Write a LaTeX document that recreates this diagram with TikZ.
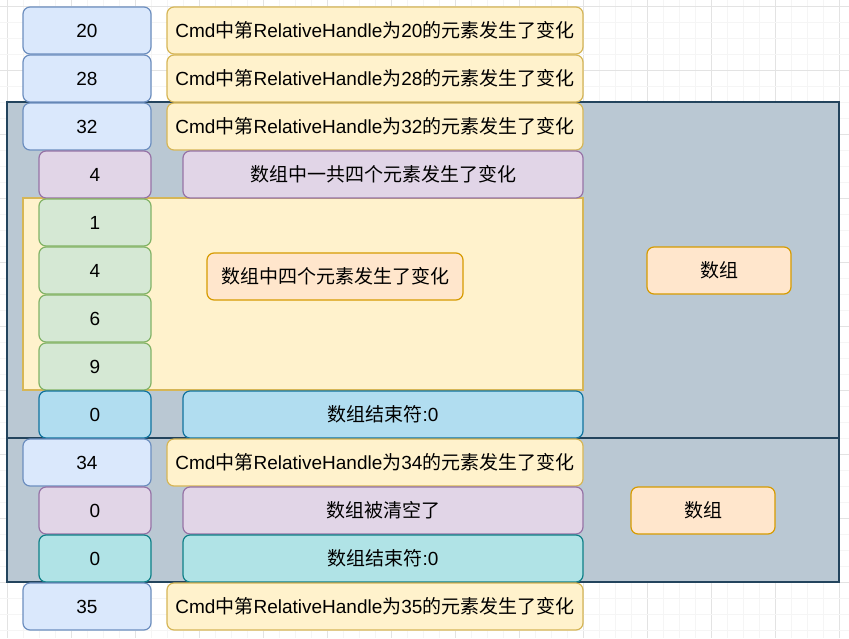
\documentclass[tikz,border=0pt]{standalone}
\usepackage{fontspec}
\setmainfont{Liberation Sans}
\newfontfamily\zh{Noto Sans CJK SC}
\usetikzlibrary{positioning}

\definecolor{blueF}{HTML}{DAE8FC}   \definecolor{blueD}{HTML}{6C8EBF}
\definecolor{yellowF}{HTML}{FFF2CC} \definecolor{yellowD}{HTML}{D6B656}
\definecolor{purpleF}{HTML}{E1D5E7} \definecolor{purpleD}{HTML}{9673A6}
\definecolor{greenF}{HTML}{D5E8D4}  \definecolor{greenD}{HTML}{82B366}
\definecolor{skyF}{HTML}{B1DDF0}    \definecolor{skyD}{HTML}{10739E}
\definecolor{tealF}{HTML}{B0E3E6}   \definecolor{tealD}{HTML}{0E8088}
\definecolor{orangeF}{HTML}{FFE6CC} \definecolor{orangeD}{HTML}{D79B00}
\definecolor{groupF}{HTML}{BAC8D3}  \definecolor{groupD}{HTML}{23445D}

\newcommand{\cmdmsg}[1]{Cmd{\zh 中第}RelativeHandle{\zh 为}#1{\zh 的元素发生了变化}}

\begin{document}
\begin{tikzpicture}[
    x=1pt, y=-1pt,
    cell/.style={draw, rounded corners=7pt, line width=1.2pt, minimum height=47pt,
                 inner sep=0pt, align=center, font=\fontsize{19}{23}\selectfont},
    keybox/.style={cell, fill=blueF,   draw=blueD,   minimum width=128pt},
    numbox/.style={cell, minimum width=112pt},
    msgbox/.style={cell, fill=yellowF, draw=yellowD, minimum width=416pt},
    infobox/.style={cell, minimum width=400pt},
    purple/.style={fill=purpleF, draw=purpleD},
    green/.style={fill=greenF,  draw=greenD},
    sky/.style={fill=skyF,    draw=skyD},
    teal/.style={fill=tealF,   draw=tealD},
    tag/.style={cell, fill=orangeF, draw=orangeD},
    group/.style={draw=groupD, fill=groupF, line width=1.3pt},
    gridminor/.style={draw=black!4, line width=0.6pt},
    gridmajor/.style={draw=black!11, line width=0.6pt},
  ]
  \useasboundingbox (0,0) rectangle (849,638);
  % background grid
  \fill[white] (0,0) rectangle (849,638);
  \foreach \k in {0,...,52} {
    \pgfmathtruncatemacro{\m}{mod(\k,4)}
    \ifnum\m=0 \draw[gridmajor] ({7.5+16*\k},0) -- ++(0,638);
    \else \draw[gridminor] ({7.5+16*\k},0) -- ++(0,638); \fi
  }
  \foreach \k in {0,...,39} {
    \pgfmathtruncatemacro{\m}{mod(\k,4)}
    \ifnum\m=0 \draw[gridmajor] (0,{6.5+16*\k}) -- ++(849,0);
    \else \draw[gridminor] (0,{6.5+16*\k}) -- ++(849,0); \fi
  }

  % groups
  \path[group] (7,102) rectangle (839,438);
  \path[group] (7,438) rectangle (839,582);
  \path[fill=yellowF, draw=yellowD, line width=1.2pt] (23,198) rectangle (583,390);

  % left column
  \node[keybox]        (k20)  at (87,30.5)  {20};
  \node[keybox]        (k28)  at (87,78.5)  {28};
  \node[keybox]        (k32)  at (87,126.5) {32};
  \node[numbox,purple] (len4) at (95,174.5) {4};
  \node[numbox,green]  (e1)   at (95,222.5) {1};
  \node[numbox,green]  (e4)   at (95,270.5) {4};
  \node[numbox,green]  (e6)   at (95,318.5) {6};
  \node[numbox,green]  (e9)   at (95,366.5) {9};
  \node[numbox,sky]    (end1) at (95,414.5) {0};
  \node[keybox]        (k34)  at (87,462.5) {34};
  \node[numbox,purple] (len0) at (95,510.5) {0};
  \node[numbox,teal]   (end2) at (95,558.5) {0};
  \node[keybox]        (k35)  at (87,606.5) {35};

  % right column
  \node[msgbox]         (m20)   at (375,30.5)  {\cmdmsg{20}};
  \node[msgbox]         (m28)   at (375,78.5)  {\cmdmsg{28}};
  \node[msgbox]         (m32)   at (375,126.5) {\cmdmsg{32}};
  \node[infobox,purple] (mlen4) at (383,174.5) {\zh 数组中一共四个元素发生了变化};
  \node[infobox,sky]    (mend1) at (383,414.5) {{\zh 数组结束符}:0};
  \node[msgbox]         (m34)   at (375,462.5) {\cmdmsg{34}};
  \node[infobox,purple] (mlen0) at (383,510.5) {\zh 数组被清空了};
  \node[infobox,teal]   (mend2) at (383,558.5) {{\zh 数组结束符}:0};
  \node[msgbox]         (m35)   at (375,606.5) {\cmdmsg{35}};

  % labels
  \node[tag, minimum width=256pt] (elems) at (335,276.5) {\zh 数组中四个元素发生了变化};
  \node[tag, minimum width=144pt] (arr1)  at (719,270.5) {\zh 数组};
  \node[tag, minimum width=144pt] (arr2)  at (703,510.5) {\zh 数组};
\end{tikzpicture}
\end{document}
